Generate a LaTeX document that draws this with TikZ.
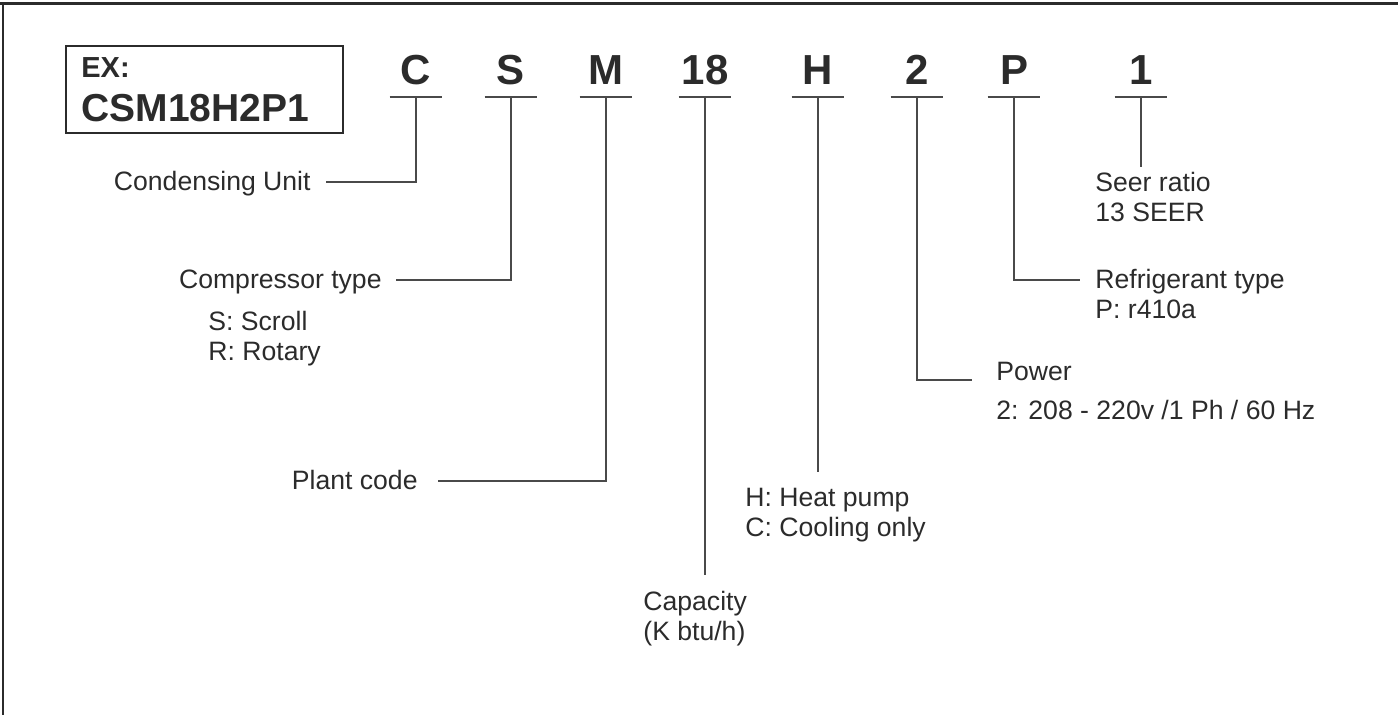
\documentclass[tikz,border=0pt]{standalone}
\usepackage{fontspec}
\setmainfont{Liberation Sans}
\usepackage{tikz}
\usetikzlibrary{positioning}
\definecolor{ink}{HTML}{2B2B2B}
\definecolor{wirec}{HTML}{4A4A4A}

\begin{document}
\begin{tikzpicture}[x=0.5pt, y=-0.5pt, lbl/.style={font=\fontsize{13.3}{15}\selectfont, text=ink, inner sep=0pt, align=left}, wire/.style={draw=wirec, line width=0.6pt}]
\tikzstyle{code}=[font=\fontsize{21}{21}\selectfont\bfseries, text=ink, anchor=south, minimum width=26pt, inner xsep=0pt, inner ysep=6pt, text depth=0pt]
\useasboundingbox (0,0) rectangle (1398,715);
\draw[ink, line width=1.5pt] (0,4) -- (1398,4);
\draw[ink, line width=1pt] (3,4) -- (3,715);
\node[draw=ink, line width=0.9pt, minimum width=138.5pt, minimum height=43.5pt, anchor=north west, inner sep=0pt] (ex) at (65,45) {};
\node[font=\fontsize{14.5}{14.5}\selectfont\bfseries, text=ink, anchor=base west, inner sep=0pt] (exA) at (81,78) {EX:};
\node[font=\fontsize{19.5}{19.5}\selectfont\bfseries, text=ink, anchor=base west, inner sep=0pt] (exB) at (81,122) {CSM18H2P1};
\foreach \ch/\x in {C/416,S/511,M/606,18/705,H/818,2/917,P/1014,1/1141}{
\node[code] (k\ch) at (\x,97) {\ch};
\draw[wire] (k\ch.south west) -- (k\ch.south east);
}
% ends of the leaders
\coordinate (eC) at (326,182);
\coordinate (eS) at (396,280);
\coordinate (eM) at (438,481);
\coordinate (e18) at (705,575);
\coordinate (eH) at (818,472);
\coordinate (e2) at (972,380);
\coordinate (eP) at (1080,280);
\coordinate (e1) at (1141,167);
% two-line labels sit on their last line
\node[lbl, anchor=base east] (cu) at (311,191) {Condensing Unit};
\node[lbl, anchor=base east] (ct) at (382,289) {Compressor type};
\node[lbl, anchor=base west] (ctv) at (208,361) {S: Scroll\\R: Rotary};
\node[lbl, anchor=base east] (pc) at (418,490) {Plant code};
\node[lbl, anchor=base west] (cap) at (643,641) {Capacity\\(K btu/h)};
\node[lbl, anchor=base west] (hp) at (745,537) {H: Heat pump\\C: Cooling only};
\node[lbl, anchor=base west] (pw) at (996,381) {Power};
\node[lbl, anchor=base west] (pwv) at (996,420) {2: 208 - 220v /1 Ph / 60 Hz};
\node[lbl, anchor=base west] (rt) at (1095,319) {Refrigerant type\\P: r410a};
\node[lbl, anchor=base west] (sr) at (1095,222) {Seer ratio\\13 SEER};
\draw[wire] (kC.south) |- (eC);
\draw[wire] (kS.south) |- (eS);
\draw[wire] (kM.south) |- (eM);
\draw[wire] (k18.south) -- (k18.south |- e18);
\draw[wire] (kH.south) -- (kH.south |- eH);
\draw[wire] (k2.south) |- (e2);
\draw[wire] (kP.south) |- (eP);
\draw[wire] (k1.south) -- (k1.south |- e1);
\end{tikzpicture}
\end{document}
